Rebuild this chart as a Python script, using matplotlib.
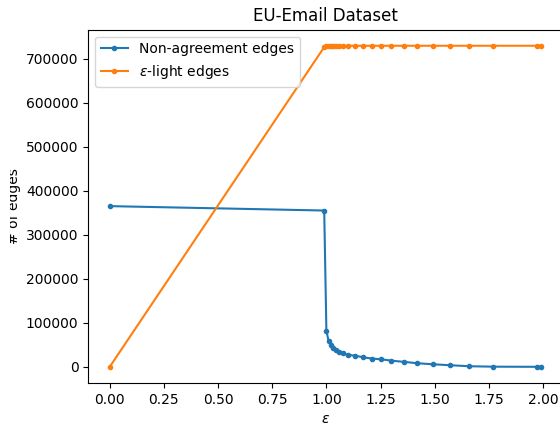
import matplotlib
matplotlib.use('Agg')
from matplotlib import pyplot as plt
from matplotlib.transforms import Bbox

# epsilon values
eps = [0.0, 0.99, 1.0, 1.01, 1.02, 1.03, 1.045, 1.06, 1.075, 1.1, 1.13, 1.17,
       1.21, 1.25, 1.3, 1.36, 1.42, 1.49, 1.57, 1.66, 1.77, 1.97, 1.99]

# number of non-agreement edges
non_agreement = [365000, 355000, 82500, 59000, 49300, 42500, 38000, 34800, 31100,
                 27300, 25700, 22000, 18900, 17500, 14300, 11400, 8400, 6100,
                 3900, 1600, 600, 300, 200]

# number of eps-light edges
eps_light = [0, 726000, 729000, 729000, 729000, 729000, 729000, 729000, 729000,
             729000, 729000, 729000, 729000, 729000, 729000, 729000, 729000,
             729000, 729000, 729000, 729000, 729000, 729000]

fig = plt.figure(figsize=(5.6, 4.26), dpi=100)
ax = fig.add_axes([88.1 / 560, 1 - 383 / 426, 474.4 / 560, 353.3 / 426])

ax.plot(eps, non_agreement, marker='.', label='Non-agreement edges')
ax.plot(eps, eps_light, marker='.', label=r'$\epsilon$-light edges')

ax.set_title('EU-Email Dataset')
ax.set_xlabel(r'$\epsilon$')
ax.set_ylabel('# of edges')
ax.yaxis.set_label_coords((21 - 88.1) / 474.4, 0.5)
ax.legend(loc='upper left')

# the label is cut on its left side in the original picture
lab = ax.yaxis.label
lab.set_clip_box(Bbox.from_extents(10, 0, 560, 426))
lab.set_clip_on(True)

fig.savefig('out.png', dpi=100)
